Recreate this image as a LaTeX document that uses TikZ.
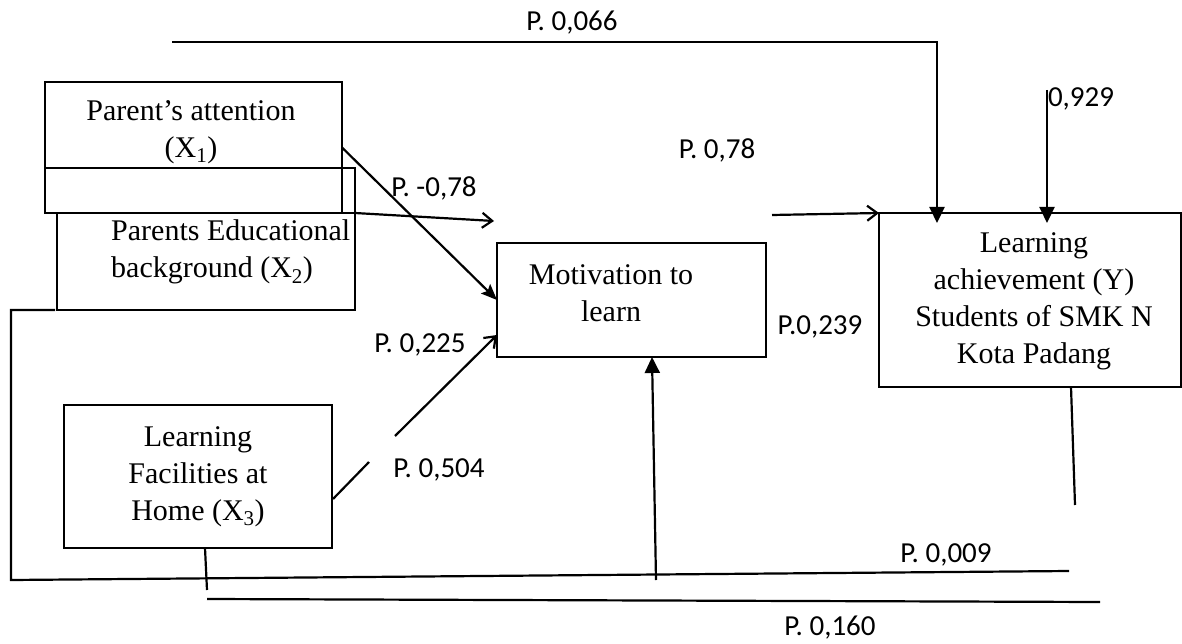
\documentclass[tikz,border=0pt]{standalone}
\usepackage{fontspec}
\setmainfont{Liberation Serif}
\newfontfamily\labfont{Carlito}
\usetikzlibrary{arrows.meta}
\begin{document}
\begin{tikzpicture}[x=1pt,y=-1pt,
  box/.style={draw,line width=2.2pt,inner sep=0pt,outer sep=0pt,anchor=north west},
  txt/.style={font=\fontsize{30}{37}\selectfont,align=center,inner sep=0pt},
  lab/.style={font=\labfont\fontsize{29}{32}\selectfont,inner sep=0pt},
  ln/.style={line width=2.2pt},
  thin/.style={line width=1.2pt},
  arr/.style={ln,-{Stealth[length=16pt,width=13pt,inset=3pt]}},
  barb/.style={ln,-{Straight Barb[length=10pt,width=15pt]}},
  varr/.style={ln,-{Triangle[length=16pt,width=15pt]}}]
\useasboundingbox (0,0) rectangle (1182,644);

% boxes
\node[box,minimum width=297pt,minimum height=131pt] (x1) at (45,82) {};
\node[txt] (x1t) at (191,132) {Parent’s attention\\(X\textsubscript{1})};
\draw[thin] (45,168) -- (355,168) -- (355,213);
\node[box,minimum width=298pt,minimum height=97pt] (x2) at (57,213) {};
\node[txt,align=left,anchor=west] (x2t) at (111,252) {Parents Educational\\background (X\textsubscript{2})};
\node[box,minimum width=268pt,minimum height=143pt] (x3) at (64,405) {};
\node[txt] (x3t) at (x3.center) {Learning\\Facilities at\\Home (X\textsubscript{3})};
\node[box,minimum width=269pt,minimum height=114pt] (mot) at (497,243) {};
\node[txt] (mott) at (611,293) {Motivation to\\learn};
\node[box,minimum width=302pt,minimum height=174pt] (y) at (879,213) {};
\node[txt] (yt) at (1034,301) {Learning\\achievement (Y)\\Students of SMK N\\Kota Padang};

% coordinates for free ends
\coordinate (topstart) at (172,42);
\coordinate (topend) at (937,223);
\coordinate (e0) at (1047,90);
\coordinate (e0end) at (1047,223);
\coordinate (m78) at (772,215);
\coordinate (x2end) at (494,221);
\coordinate (x3a) at (333,499);
\coordinate (x3b) at (369,462);
\coordinate (x3c) at (395,436);
\coordinate (x3end) at (497,335);
\coordinate (bl1) at (55,310);
\coordinate (bl2) at (11,310);
\coordinate (bl3) at (11,580);
\coordinate (bl4) at (1069,571);
\coordinate (b2a) at (205,548);
\coordinate (b2b) at (207,590);
\coordinate (b2c) at (207,599);
\coordinate (b2d) at (1100,602);
\coordinate (upa) at (656,580);
\coordinate (upend) at (652,357);
\coordinate (ya) at (1071,387);
\coordinate (yb) at (1075,505);

% connectors
\draw[varr] (topstart) -- (topstart -| topend) -- (topend);
\draw[varr] (e0) -- (e0end);
\draw[barb] (m78) -- (y.north west);
\draw[barb] (x2.north east) -- (x2end);
\draw[arr] (x1.east) -- (mot.west);
\draw[ln] (x3a) -- (x3b);
\draw[barb] (x3c) -- (x3end);
\draw[ln] (bl1) -- (bl2) -- (bl3) -- (bl4);
\draw[ln] (b2a) -- (b2b);
\draw[ln] (b2c) -- (b2d);
\draw[varr] (upa) -- (upend);
\draw[ln] (ya) -- (yb);

% labels
\node[lab] (l066) at (572,23) {P. 0,066};
\node[lab] (l078n) at (434,188) {P. -0,78};
\node[lab] (l078) at (717,150) {P. 0,78};
\node[lab] (l929) at (1081,99) {0,929};
\node[lab] (l225) at (420,345) {P. 0,225};
\node[lab] (l504) at (439,470) {P. 0,504};
\node[lab] (l239) at (820,327) {P.0,239};
\node[lab] (l009) at (946,555) {P. 0,009};
\node[lab] (l160) at (830,628) {P. 0,160};
\end{tikzpicture}
\end{document}
